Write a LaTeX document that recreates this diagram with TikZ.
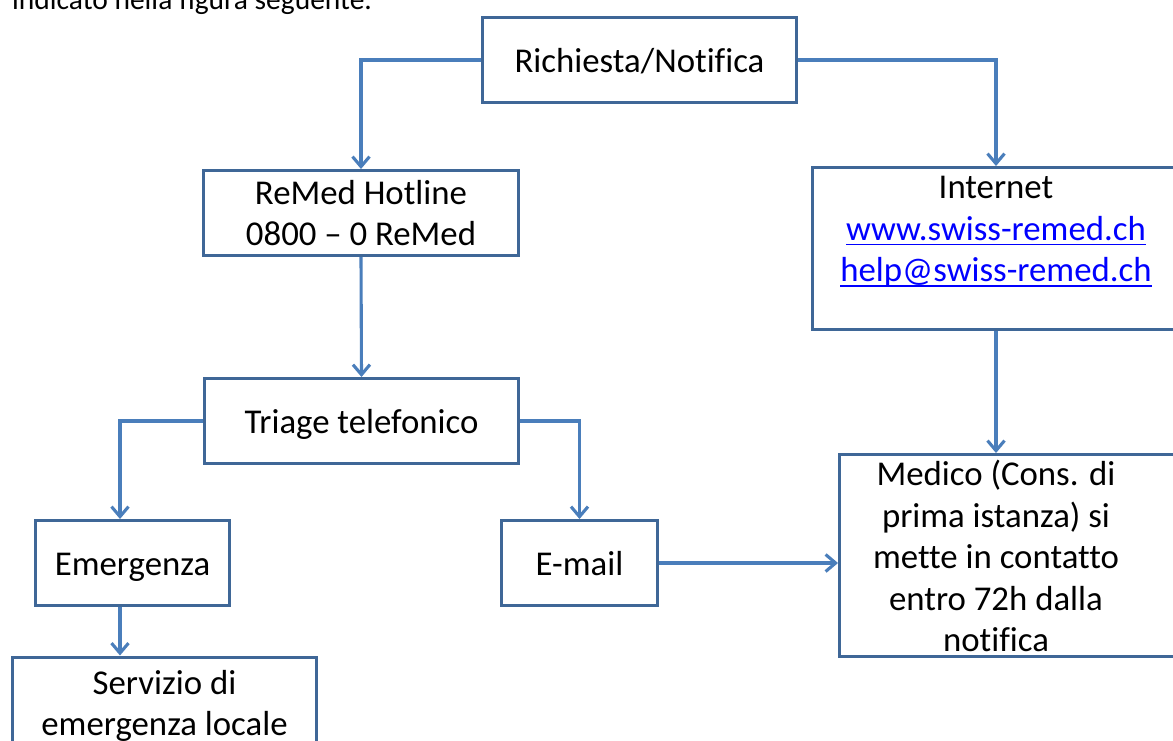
\documentclass[tikz,border=0pt]{standalone}
\usepackage{fontspec}
\setmainfont{Carlito}[Ligatures=NoCommon]
\usetikzlibrary{arrows.meta}
\definecolor{boxblue}{HTML}{3F6797}
\definecolor{arrblue}{HTML}{4A7EBB}
\definecolor{linkblue}{HTML}{0000FF}
\newcommand\lnk[1]{\setbox0\hbox{#1}\rlap{\rule[-5pt]{\wd0}{1.7pt}}\box0}
\tikzset{
  box/.style={draw=boxblue, line width=3pt, fill=white, inner sep=0pt, align=center,
    font=\fontsize{34.8}{41.5}\selectfont, text height=30pt, text depth=6pt},
  box2/.style={box, text height=71.5pt, text depth=6pt},
  txt/.style={inner sep=0pt, align=center, font=\fontsize{34.8}{41.5}\selectfont},
  arr/.style={draw=arrblue, line width=3.1pt, -{Straight Barb[length=10pt,width=17pt,line width=3.1pt]}},
}
\begin{document}
\begin{tikzpicture}[x=1pt,y=-1pt]
\useasboundingbox (0,0) rectangle (1173,740);
\node[inner sep=0pt, anchor=base west, font=\fontsize{29.5}{35}\selectfont] (intro) at (12,9.5) {indicato nella figura seguente.};
\node[box, minimum width=314pt, minimum height=85pt] (rich) at (639.5,60) {Richiesta/Notifica};
\node[box2, minimum width=315pt, minimum height=85pt] (remed) at (361,213) {ReMed Hotline\\0800 -- 0 ReMed};
\node[box, minimum width=367pt, minimum height=162pt] (inet) at (996,248.5) {};
\node[txt] (inettxt) at (996,232) {Internet\\\textcolor{linkblue}{\lnk{www.swiss-remed.ch}}\\\textcolor{linkblue}{\lnk{help@swiss-remed.ch}}};
\node[box, minimum width=314pt, minimum height=85pt] (triage) at (361.5,421) {Triage telefonico};
\node[box, minimum width=194pt, minimum height=85pt] (emerg) at (132.5,563) {Emergenza};
\node[box, minimum width=156pt, minimum height=85pt] (email) at (579.5,563) {E-mail};
\node[box, minimum width=349pt, minimum height=202pt] (medico) at (1014,555.5) {};
\node[txt] (medtxt) at (996,556) {Medico (Cons. di\\prima istanza) si\\mette in contatto\\entro 72h dalla\\notifica};
\node[box2, minimum width=304pt, minimum height=92pt] (serv) at (164.5,703) {Servizio di\\emergenza locale};

\draw[arr] (rich.west) -| (remed.north);
\draw[arr] (rich.east) -| (inet.north);
\draw[arr] (remed.south) -- (triage.north);
\draw[arr] (inet.south) -- (inet.south |- medico.north);
\draw[arr] (triage.west) -| ([xshift=-12.5pt]emerg.north);
\draw[arr] (triage.east) -| (email.north);
\draw[arr] ([xshift=-12.5pt]emerg.south) -- ([xshift=-12.5pt]emerg.south |- serv.north);
\draw[arr] (email.east) -- (email.east -| medico.west);
\end{tikzpicture}
\end{document}
